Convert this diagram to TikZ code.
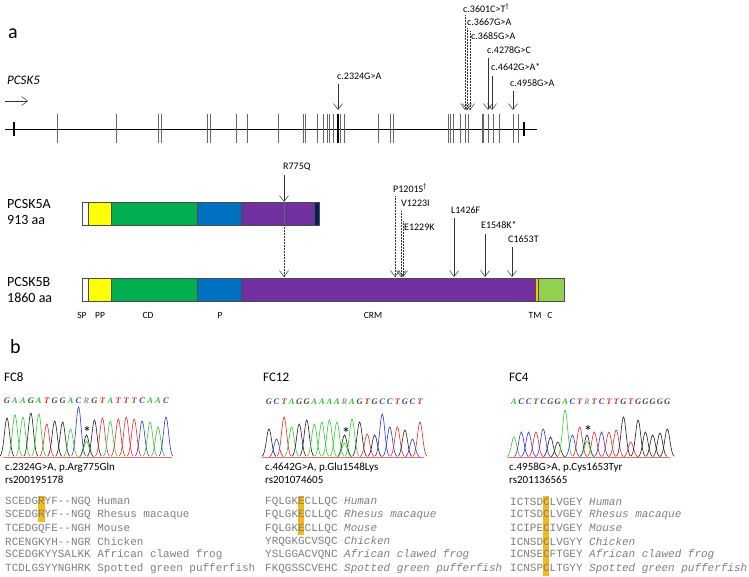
\documentclass[tikz,border=0pt]{standalone}
\usepackage{fontspec}
\setmainfont{Carlito}
\newfontfamily\seqfont{Liberation Mono}
\newfontfamily\tracefont{Liberation Serif}
\usetikzlibrary{arrows.meta}

\definecolor{domYellow}{RGB}{255,255,0}
\definecolor{domGreen}{RGB}{0,176,80}
\definecolor{domBlue}{RGB}{0,112,192}
\definecolor{domPurple}{RGB}{112,48,160}
\definecolor{domNavy}{RGB}{0,32,96}
\definecolor{domOrange}{RGB}{255,192,0}
\definecolor{domLight}{RGB}{146,208,80}
\definecolor{alnGray}{RGB}{128,128,128}
\definecolor{hiOrange}{RGB}{245,185,30}
\definecolor{pkA}{RGB}{50,205,50}
\definecolor{pkC}{RGB}{50,50,220}
\definecolor{pkG}{RGB}{30,30,30}
\definecolor{pkT}{RGB}{225,45,45}
\definecolor{pkR}{RGB}{30,30,30}
\definecolor{baseA}{RGB}{50,190,50}
\definecolor{baseC}{RGB}{60,60,210}
\definecolor{baseG}{RGB}{70,70,70}
\definecolor{baseT}{RGB}{220,55,55}
\definecolor{baseR}{RGB}{150,150,150}

\newcommand\chrompeak[3]{%
  \draw[#3, line width=0.6pt] plot[smooth, domain=-7:7, samples=15] ({#1+\x},{457-#2*exp(-((\x)^2)/13)});}

\begin{document}
\begin{tikzpicture}[x=1pt, y=-1pt,
  exon/.style={line width=0.8pt, draw=black!60},
  bigExon/.style={line width=1.4pt, draw=black},
  mutLabel/.style={anchor=west, inner sep=0pt, font=\fontsize{10}{12}\selectfont},
  mutArrow/.style={draw=black!80, line width=0.5pt, -{Straight Barb[length=6pt,width=9pt]}},
  mutDotted/.style={mutArrow, densely dotted},
  domBox/.style={draw=black!70, line width=0.4pt},
  domLabel/.style={inner sep=0pt, font=\fontsize{9.5}{11}\selectfont},
  protLabel/.style={anchor=west, inner sep=0pt, align=left, font=\fontsize{14}{16}\selectfont},
  panelLetter/.style={anchor=west, inner sep=0pt, font=\fontsize{20}{22}\selectfont},
  sampleLabel/.style={anchor=west, inner sep=0pt, font=\fontsize{13}{15}\selectfont},
  infoText/.style={anchor=west, inner sep=0pt, align=left, font=\fontsize{11}{13}\selectfont},
  baseLetter/.style={inner sep=0pt, font=\tracefont\fontsize{8.5}{9}\selectfont\bfseries\itshape},
  starMark/.style={inner sep=0pt, font=\fontsize{17}{18}\selectfont},
  alnText/.style={anchor=west, inner sep=0pt, text=alnGray, font=\seqfont\fontsize{10.97}{13}\selectfont}
]
\fill[white] (0,0) rectangle (749,576);
\useasboundingbox (0,0) rectangle (749,576);

% panel a: gene
\node[panelLetter] (panelA) at (8,34) {a};
\node[anchor=west, inner sep=0pt, font=\fontsize{13}{15}\selectfont\itshape] (geneName) at (7,80) {PCSK5};
\coordinate (dirS) at (5,101);
\coordinate (dirE) at (28,101);
\draw[mutArrow] (dirS) -- (dirE);

\coordinate (geneL) at (5,129);
\coordinate (geneR) at (537,129);
\draw[line width=0.6pt] (geneL) -- (geneR);
\foreach \x in {57,116,158,161,207,210,236,247,278,303,305,317,323,327,329,333,340,344,378,390,393,448,450,453,460,465,468,482,483,488,493,499,513,518}
  \draw[exon] (\x,114) -- (\x,143);
\draw[bigExon] (338,114) -- (338,143);
\draw[bigExon] (14,122) -- (14,136);
\draw[bigExon] (524,122) -- (524,136);

% gene variants
\foreach \n/\x/\ys/\lx/\ly/\sty/\lab in {
    g1/338/84/337/76/mutArrow/c.2324G>A,
    g2/465/15/463/8/mutDotted/c.3601C>T\textsuperscript{†},
    g3/467/28/467/22/mutDotted/c.3667G>A,
    g4/470/31/471/36/mutDotted/c.3685G>A,
    g5/488/58/487/50/mutArrow/c.4278G>C,
    g6/492/76/491/67/mutArrow/c.4642G>A*,
    g7/513/91/510/83/mutArrow/c.4958G>A} {
  \node[mutLabel] (\n) at (\lx,\ly) {\lab};
  \coordinate (\n-s) at (\x,\ys);
  \coordinate (\n-t) at (\x,110);
  \draw[\sty] (\n-s) -- (\n-t);
}

% proteins
\node[protLabel] (protA) at (7,212) {PCSK5A\\913 aa};
\node[protLabel] (protB) at (7,290) {PCSK5B\\1860 aa};
\foreach \xa/\xb/\c in {82/88/white, 88/111/domYellow, 111/197/domGreen, 197/241/domBlue, 241/314/domPurple, 314/319/domNavy}
  \filldraw[domBox, fill=\c] (\xa,202) rectangle (\xb,225);
\foreach \xa/\xb/\c in {82/88/white, 88/111/domYellow, 111/197/domGreen, 197/241/domBlue, 241/535/domPurple, 535/538/domOrange, 538/564/domLight}
  \filldraw[domBox, fill=\c] (\xa,278) rectangle (\xb,301);
\foreach \lab/\x in {SP/82, PP/100, CD/148, P/220, CRM/373, TM/535, C/550}
  \node[domLabel] (dom\lab) at (\x,315) {\lab};

% protein variants
\node[mutLabel] (p1) at (283,167) {R775Q};
\coordinate (p1-s) at (284,175);
\coordinate (p1-a) at (284,202);
\coordinate (p1-b) at (284,225);
\coordinate (p1-t) at (284,277);
\draw[mutArrow] (p1-s) -- (p1-a);
\draw[black!60, line width=0.4pt] (p1-a) -- (p1-b);
\draw[mutDotted] (p1-b) -- (p1-t);
\foreach \n/\x/\ys/\lx/\ly/\sty/\lab in {
    p2/395/196/393/188/mutDotted/P1201S\textsuperscript{†},
    p3/401/211/401/203/mutDotted/V1223I,
    p4/403/221/404/227/mutDotted/E1229K,
    p5/454/218/451/210/mutArrow/L1426F,
    p6/485/234/481/225/mutArrow/E1548K*,
    p7/512/247/508/239/mutArrow/C1653T} {
  \node[mutLabel] (\n) at (\lx,\ly) {\lab};
  \coordinate (\n-s) at (\x,\ys);
  \coordinate (\n-t) at (\x,277);
  \draw[\sty] (\n-s) -- (\n-t);
}

% panel b: traces
\node[panelLetter] (panelB) at (10,347) {b};
\node[sampleLabel] (fc8) at (4,377) {FC8};
\node[sampleLabel] (fc12) at (263,377) {FC12};
\node[sampleLabel] (fc4) at (509,377) {FC4};

\draw[pkT!70, line width=0.5pt] (3,457) -- (172,457);
\draw[pkT!70, line width=0.5pt] (262,457) -- (424,457);
\draw[pkT!70, line width=0.5pt] (508,457) -- (670,457);

\foreach \b/\h [count=\i from 0] in {G/39,A/42,A/40,G/44,A/43,T/33,G/36,G/35,A/28,C/50,R/22,G/37,T/39,A/36,T/38,T/40,T/38,C/36,A/35,A/30,C/40} {
  \pgfmathsetmacro\px{7+7.95*\i}
  \chrompeak{\px}{\h}{pk\b}
  \node[baseLetter, text=base\b] (fc8b\i) at (\px,401) {\b};
}
\chrompeak{86.5}{16}{pkA}
\node[starMark] (fc8star) at (87,432) {*};

\foreach \b/\h [count=\i from 0] in {G/28,C/18,T/40,A/30,G/33,G/37,A/33,A/35,A/37,A/35,R/22,A/38,G/35,T/23,G/22,C/43,C/30,T/30,G/27,C/18,T/35} {
  \pgfmathsetmacro\px{269+7.55*\i}
  \chrompeak{\px}{\h}{pk\b}
  \node[baseLetter, text=base\b] (fc12b\i) at (\px,402) {\b};
}
\chrompeak{344.5}{14}{pkA}
\node[starMark] (fc12star) at (346,433) {*};

\foreach \b/\h [count=\i from 0] in {A/20,C/25,C/25,T/25,C/28,G/20,G/15,A/47,C/22,T/30,R/22,T/25,C/25,T/25,T/27,G/40,T/15,G/37,G/25,G/22,G/24,G/28} {
  \pgfmathsetmacro\px{514+7.3*\i}
  \chrompeak{\px}{\h}{pk\b}
  \node[baseLetter, text=base\b] (fc4b\i) at (\px,402) {\b};
}
\chrompeak{587}{16}{pkA}
\node[starMark] (fc4star) at (588,431) {*};

\node[infoText] (fc8info) at (5,473) {c.2324G>A, p.Arg775Gln\\rs200195178};
\node[infoText] (fc12info) at (265,473) {c.4642G>A, p.Glu1548Lys\\rs201074605};
\node[infoText] (fc4info) at (509,473) {c.4958G>A, p.Cys1653Tyr\\rs201136565};

% alignments
\fill[hiOrange] (37.9,495.5) rectangle (44.5,521.5);
\fill[hiOrange] (297.6,495.5) rectangle (304.2,535);
\fill[hiOrange] (542.6,495.5) rectangle (549.2,576);
\foreach \s [count=\i from 0] in {SCEDGRYF-{}-NGQ Human, SCEDGRYF-{}-NGQ Rhesus macaque, TCEDGQFE-{}-NGH Mouse, RCENGKYH-{}-NGR Chicken, SCEDGKYYSALKK African clawed frog, TCDLGSYYNGHRK Spotted green pufferfish}
  \node[alnText] (fc8a\i) at (5,{501.7+13.33*\i}) {\s};
\foreach \s/\sp [count=\i from 0] in {FQLGKECLLQC/Human, FQLGKECLLQC/Rhesus macaque, FQLGKECLLQC/Mouse, YRQGKGCVSQC/Chicken, YSLGGACVQNC/African clawed frog, FKQGSSCVEHC/Spotted green pufferfish}
  \node[alnText] (fc12a\i) at (265,{501.7+13.33*\i}) {\s\ \textit{\sp}};
\foreach \s/\sp [count=\i from 0] in {ICTSDCLVGEY/Human, ICTSDCLVGEY/Rhesus macaque, ICIPECIVGEY/Mouse, ICNSDCLVGYY/Chicken, ICNSECFTGEY/African clawed frog, ICNSPCLTGYY/Spotted green pufferfish}
  \node[alnText] (fc4a\i) at (510,{501.7+13.33*\i}) {\s\ \textit{\sp}};

\end{tikzpicture}
\end{document}
